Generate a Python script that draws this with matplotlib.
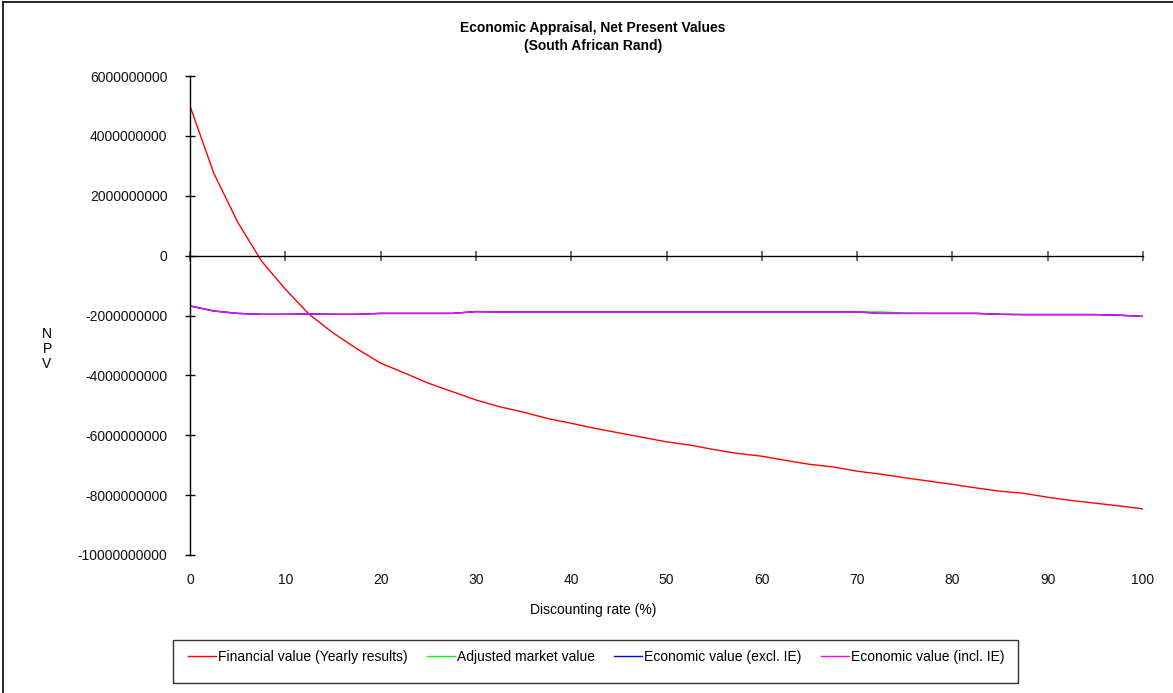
import matplotlib.pyplot as plt
import numpy as np
from matplotlib.ticker import FuncFormatter
from matplotlib.patches import Rectangle
from matplotlib.lines import Line2D

plt.rcParams['font.family'] = ['Liberation Sans', 'DejaVu Sans']
plt.rcParams['font.size'] = 10

# discount rates (%)
rates = np.arange(0, 102.5, 2.5)

# NPV in billions of Rand
financial = [5.00, 2.75, 1.12, -0.18, -1.12, -1.96, -2.58, -3.11, -3.59, -3.92,
             -4.26, -4.54, -4.82, -5.05, -5.23, -5.44, -5.60, -5.77, -5.92, -6.07,
             -6.22, -6.33, -6.48, -6.61, -6.70, -6.84, -6.97, -7.06, -7.20, -7.30,
             -7.42, -7.53, -7.64, -7.76, -7.87, -7.94, -8.07, -8.18, -8.27, -8.36,
             -8.46]
econ_incl = [-1.68, -1.85, -1.93, -1.96, -1.96, -1.95, -1.96, -1.96, -1.93, -1.93,
             -1.93, -1.93, -1.87, -1.88, -1.88, -1.88, -1.88, -1.88, -1.88, -1.88,
             -1.88, -1.88, -1.88, -1.88, -1.88, -1.88, -1.88, -1.88, -1.88, -1.93,
             -1.93, -1.93, -1.93, -1.93, -1.96, -1.97, -1.97, -1.97, -1.97, -1.99,
             -2.03]
econ_excl = list(econ_incl)
adjusted = [-1.68, -1.85, -1.93, -1.96, -1.96, -1.95, -1.96, -1.96, -1.93, -1.93,
            -1.93, -1.93, -1.87, -1.88, -1.88, -1.88, -1.88, -1.88, -1.88, -1.88,
            -1.88, -1.88, -1.88, -1.88, -1.88, -1.88, -1.88, -1.88, -1.88, -1.88,
            -1.92, -1.93, -1.93, -1.93, -1.96, -1.97, -1.97, -1.97, -1.97, -1.99,
            -2.03]

series = [
    ("Financial value (Yearly results)", financial, "#FF0000"),
    ("Adjusted market value", adjusted, "#00FF00"),
    ("Economic value (excl. IE)", econ_excl, "#0000FF"),
    ("Economic value (incl. IE)", econ_incl, "#FF00FF"),
]

W, H = 1173, 693
fig = plt.figure(figsize=(W / 100, H / 100), dpi=100)
ax = fig.add_axes([190 / W, 1 - 555 / H, (1143 - 190) / W, (555 - 76) / H])

for name, vals, col in series:
    ax.plot(rates, np.array(vals) * 1e9, color=col, lw=1.0, label=name)

ax.set_xlim(0, 100)
ax.set_ylim(-10e9, 6e9)
ax.set_yticks(np.arange(-10e9, 6.1e9, 2e9))
ax.yaxis.set_major_formatter(FuncFormatter(lambda v, p: f"{v:.0f}"))
ax.set_xticks(np.arange(0, 101, 10))

ax.spines['top'].set_visible(False)
ax.spines['right'].set_visible(False)
ax.spines['bottom'].set_position(('data', 0))
ax.spines['bottom'].set_linewidth(1.0)
ax.spines['left'].set_linewidth(1.0)
ax.tick_params(axis='x', direction='inout', length=6.5, width=1.2, color='#555555',
               labelbottom=False)
ax.tick_params(axis='y', direction='inout', length=6.5, width=1.0, pad=13,
               labelcolor='#111111')

sec = ax.secondary_xaxis('bottom')
sec.set_xticks(np.arange(0, 101, 10))
sec.spines['bottom'].set_visible(False)
sec.tick_params(length=0, pad=13, labelcolor='#111111')

ax.set_xlabel("Discounting rate (%)")
ax.xaxis.set_label_coords((593 - 190) / (1143 - 190), -(610 - 555) / (555 - 76))
ax.xaxis.label.set_va('center')

fig.text(47 / W, 1 - 349 / H, "N\nP\nV", ha='center', va='center', linespacing=1.1)
fig.text(593 / W, 1 - 37 / H, "Economic Appraisal, Net Present Values\n(South African Rand)",
         ha='center', va='center', fontweight='bold', linespacing=1.3)

# legend box
fig.add_artist(Rectangle((173 / W, 1 - 683 / H), (1018 - 173) / W, (683 - 640) / H,
                         transform=fig.transFigure, fill=False, edgecolor='#333333', lw=1.0))
fig.legend(loc='center', bbox_to_anchor=(596 / W, 1 - 657 / H), ncol=4, frameon=False,
           handlelength=2.0, handletextpad=0.15, columnspacing=1.4)

# outer chart border (top and left)
fig.add_artist(Line2D([3 / W, 3 / W], [0, 1 - 2 / H], transform=fig.transFigure, color='black', lw=1.2))
fig.add_artist(Line2D([3 / W, 1], [1 - 2 / H, 1 - 2 / H], transform=fig.transFigure, color='black', lw=1.2))

fig.savefig("out.png", dpi=100)
